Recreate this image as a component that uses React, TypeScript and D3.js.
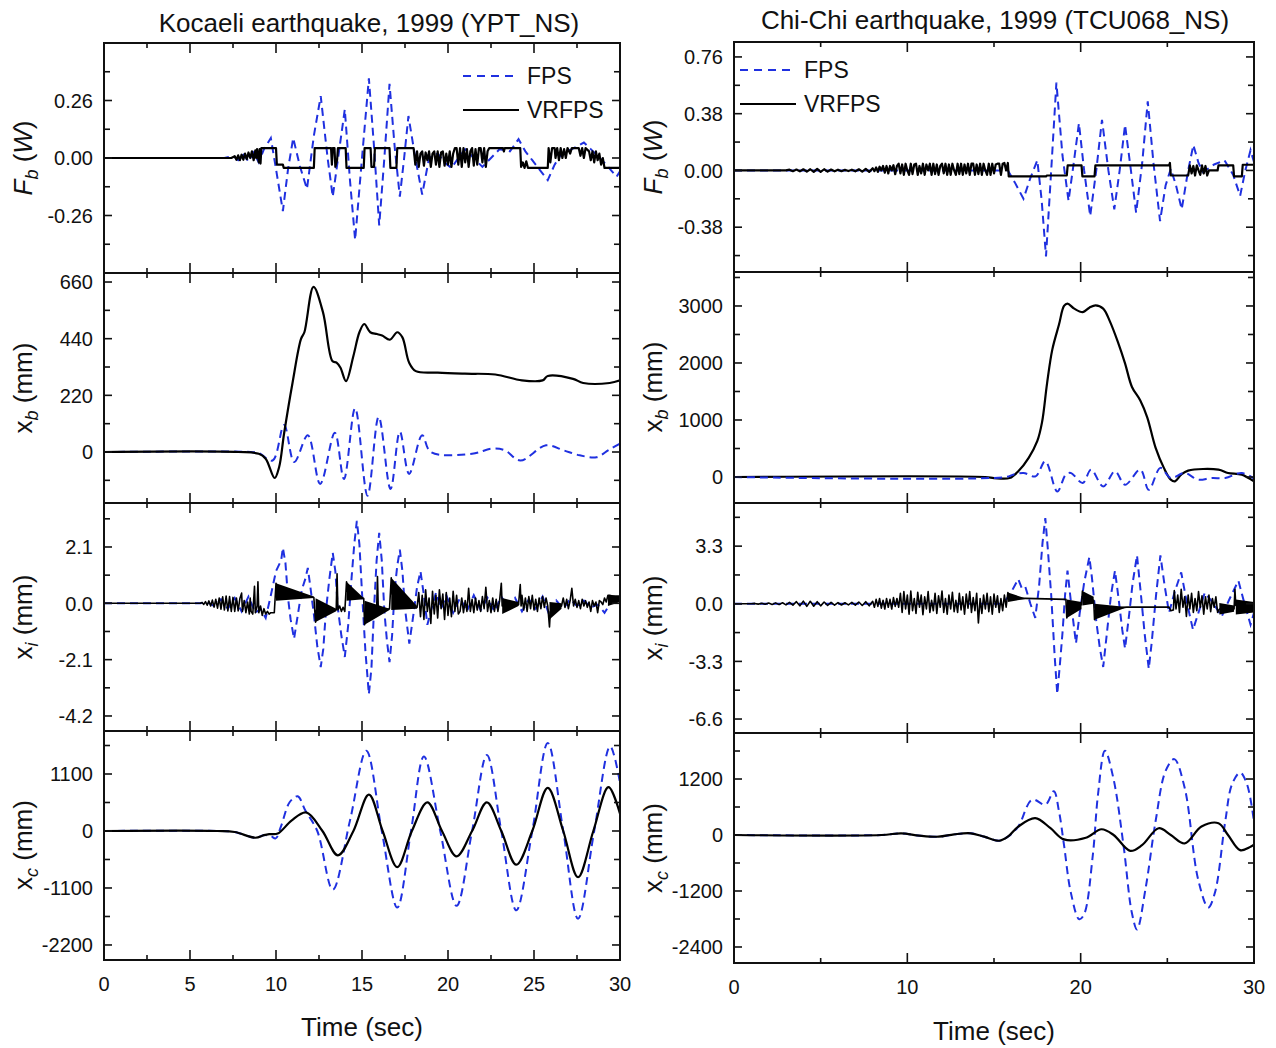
import React from 'react';
import * as d3 from 'd3';

type Pt = [number, number];
type BandPt = [number, number, number];

// evenly sampled run of hand-read values
const seq = (t0: number, dt: number, vals: number[]): Pt[] =>
  vals.map((v, i) => [Math.round((t0 + i * dt) * 1000) / 1000, v] as Pt);

// ---------- axes ----------
const kocTimeTicks = [0, 5, 10, 15, 20, 25, 30];
const chiTimeTicks = [0, 10, 20, 30];

const kocFbTicks = [-0.26, 0, 0.26];
const kocXbTicks = [0, 220, 440, 660];
const kocXiTicks = [-4.2, -2.1, 0, 2.1];
const kocXcTicks = [-2200, -1100, 0, 1100];
const chiFbTicks = [-0.38, 0, 0.38, 0.76];
const chiXbTicks = [0, 1000, 2000, 3000];
const chiXiTicks = [-6.6, -3.3, 0, 3.3];
const chiXcTicks = [-2400, -1200, 0, 1200];

const kocFbRange = [-0.52, 0.52];
const kocXbRange = [-198, 695];
const kocXiRange = [-4.76, 3.74];
const kocXcRange = [-2490, 1930];
const chiFbRange = [-0.68, 0.86];
const chiXbRange = [-456, 3596];
const chiXiRange = [-7.4, 5.77];
const chiXcRange = [-2743, 2186];

// ---------- Kocaeli (YPT_NS) ----------
const kocFbFps: Pt[] = [
  [0, 0], [7.0, 0], [7.5, 0.01], [7.8, -0.01], [8.1, 0.015], [8.4, -0.015], [8.7, 0.025], [9.0, -0.02],
  [9.3, 0.04], [9.7, 0.09], [10.0, -0.05], [10.4, -0.24], [10.7, -0.05], [11.0, 0.09], [11.4, -0.04],
  [11.8, -0.14], [12.2, 0.1], [12.6, 0.28], [13.0, 0.0], [13.3, -0.175], [13.7, 0.05], [14.0, 0.22],
  [14.3, -0.1], [14.6, -0.37], [15.0, 0.0], [15.4, 0.36], [15.7, 0.05], [16.0, -0.305], [16.3, 0.0],
  [16.6, 0.335], [16.9, 0.05], [17.2, -0.175], [17.45, 0.0], [17.7, 0.19], [18.1, 0.0], [18.5, -0.165],
  [18.9, 0.0], [19.4, 0.02], [19.8, -0.02], [20.2, -0.045], [20.6, 0.0], [21.0, 0.04], [21.5, 0.0],
  [22.0, -0.04], [22.5, 0.0], [23.0, 0.04], [23.6, 0.03], [24.1, 0.085], [24.5, 0.03], [24.9, -0.01],
  [25.3, -0.05], [25.8, -0.1], [26.2, -0.03], [26.6, 0.02], [27.2, 0.04], [27.9, 0.07], [28.3, 0.04],
  [28.7, 0.01], [29.2, -0.03], [29.8, -0.085], [30, -0.06],
];
const kocFbVr: Pt[] = [
  [0, 0], [7.4, 0],
  ...seq(7.6, 0.1, [0.008, -0.008, 0.012, -0.01, 0.015, -0.008, 0.02, -0.005, 0.025, 0.0, 0.03, -0.01, 0.035]),
  [8.85, 0.0], [8.9, 0.04], [9.0, -0.02], [9.05, 0.04], [9.1, -0.025], [9.15, 0.045],
  [10.0, 0.045], [10.05, -0.03], [10.4, -0.03], [10.45, -0.045], [12.2, -0.045], [12.25, 0.045],
  [13.2, 0.045], [13.25, -0.03], [13.3, 0.045], [13.4, 0.045], [13.45, -0.04], [13.55, -0.01],
  [13.6, 0.045], [14.05, 0.045], [14.1, -0.045], [15.1, -0.045], [15.15, 0.045], [15.5, 0.045],
  [15.55, -0.04], [15.7, -0.04], [15.75, 0.045], [16.6, 0.045], [16.65, -0.045], [17.0, -0.045],
  [17.05, 0.045], [18.0, 0.045],
  ...seq(18.1, 0.1, [-0.03, 0.03, -0.04, 0.02, 0.03, -0.035, 0.025, -0.01, 0.03, -0.04, 0.02, 0.03, -0.03,
    0.03, -0.04, 0.025, 0.03, -0.035, 0.02, -0.03, 0.03, -0.04, 0.02, 0.045, 0.045, -0.03, 0.045, -0.04,
    0.045, -0.02, 0.04, -0.04, 0.03, 0.045, -0.035, 0.04, -0.03, 0.045, 0.045, -0.02, 0.045, -0.04, 0.03, 0.045]),
  [23.2, 0.045], [23.25, 0.03], [23.3, 0.045], [24.2, 0.045], [24.25, -0.04], [24.35, -0.02],
  [24.45, -0.045], [24.55, -0.015], [24.65, -0.045], [25.8, -0.045], [25.85, 0.045], [25.95, -0.02],
  [26.05, 0.045], [26.2, 0.045], [26.25, 0.0], [26.35, 0.045], [26.45, -0.01], [26.55, 0.045],
  [26.65, 0.0], [26.75, 0.04], [26.85, 0.0], [26.95, 0.045], [27.1, 0.02], [27.2, 0.045], [27.6, 0.045],
  [27.7, 0.01], [27.8, 0.045], [27.9, 0.0], [28.0, 0.045], [28.2, 0.03], [28.3, -0.01], [28.4, 0.03],
  [28.5, -0.02], [28.6, 0.03], [28.7, -0.01], [28.8, 0.02], [28.9, -0.03], [29.0, 0.0], [29.1, -0.045],
  [30, -0.045],
];

const kocXbFps: Pt[] = [
  [0, 0], [8.5, 0], [9.0, -4], [9.8, -33], [10.47, 105], [11.06, -39], [11.85, 65], [12.57, -124],
  [13.42, 75], [13.95, -105], [14.6, 170], [15.32, -170], [15.97, 137], [16.66, -144], [17.2, 79],
  [17.74, -85], [18.5, 65], [19.0, 0], [21.4, -7], [22.55, 13], [23.3, 7], [24.2, -33], [25.7, 26],
  [26.7, 7], [27.66, -13], [28.64, -20], [29.33, 7], [30, 33],
];
const kocXbVr: Pt[] = [
  [0, 0], [7.8, 0], [9.0, -7], [9.4, -26], [9.92, -101], [10.18, -59], [10.47, 72], [10.96, 268],
  [11.45, 438], [11.65, 465], [12.18, 641], [12.73, 543], [13.28, 353], [13.52, 347], [13.75, 327],
  [14.07, 275], [14.5, 373], [14.85, 465], [15.13, 497], [15.48, 465], [15.87, 458], [16.17, 452],
  [16.62, 436], [17.05, 465], [17.35, 445], [17.74, 347], [18.13, 314], [19.4, 308], [20.98, 304],
  [22.75, 301], [24.3, 278], [25.5, 278], [25.8, 295], [27.27, 284], [27.86, 268], [29.4, 268], [30, 278],
];

const kocXiFps: Pt[] = [
  [0, 0], [5.6, 0], [6.0, 0.05], [6.4, -0.1], [6.8, 0.15], [7.2, -0.2], [7.6, 0.2], [8.0, -0.3],
  [8.4, 0.25], [8.8, -0.35], [9.1, -0.2], [9.4, -0.55], [9.7, 0.3], [10.0, 1.2], [10.3, 1.6],
  [10.4, 2.07], [10.55, 1.5], [10.7, 0.2], [10.85, -0.6], [11.05, -1.32], [11.3, -0.3], [11.5, 0.5],
  [11.7, 0.9], [11.85, 1.32], [12.0, 0.6], [12.2, -0.4], [12.4, -1.6], [12.6, -2.38], [12.75, -1.7],
  [12.9, -0.3], [13.1, 0.9], [13.3, 1.88], [13.45, 1.2], [13.6, -0.2], [13.8, -1.2], [14.0, -2.0],
  [14.2, -0.8], [14.4, 1.0], [14.55, 2.2], [14.7, 3.07], [14.85, 2.2], [15.0, 0.4], [15.2, -1.8],
  [15.4, -3.39], [15.55, -2.4], [15.7, -0.2], [15.85, 1.6], [16.0, 2.63], [16.15, 1.6], [16.3, -0.3],
  [16.45, -1.4], [16.6, -2.19], [16.75, -1.2], [16.9, 0.5], [17.05, 1.4], [17.2, 2.0], [17.35, 1.2],
  [17.5, -0.2], [17.75, -1.5], [17.95, -0.6], [18.2, 0.6], [18.4, 1.19], [18.6, 0.3], [18.8, -0.8],
  [19.0, -0.3], [19.3, 0.4], [19.6, -0.2], [19.9, 0.3], [20.3, -0.35], [20.7, 0.2], [21.1, -0.3],
  [21.5, 0.3], [21.9, -0.25], [22.3, 0.2], [22.7, -0.3], [23.1, 0.25], [23.5, -0.2], [23.9, 0.2],
  [24.3, -0.3], [24.7, 0.15], [25.1, -0.2], [25.5, 0.25], [25.9, -0.45], [26.3, 0.1], [26.7, -0.2],
  [27.1, 0.15], [27.5, -0.1], [27.9, 0.1], [28.3, -0.15], [28.7, -0.05], [29.1, -0.35], [29.5, 0.05],
  [30, 0.2],
];
const kocXiVr: Pt[] = [
  [0, 0], [5.5, 0],
  ...seq(5.6, 0.1, [0, 0.03, -0.04, 0.06, -0.07, 0.09, -0.1, 0.12, -0.14, 0.15, -0.18, 0.2, -0.22, 0.24,
    -0.25, 0.27, -0.28, 0.25, -0.3, 0.22, -0.3, 0.2, -0.28, 0.18]),
  [8.0, 0.38], [8.05, -0.3], [8.15, 0.1], [8.25, -0.35], [8.35, 0.05], [8.45, -0.4], [8.5, 0.2],
  [8.55, -0.3], [8.65, -0.4], [8.75, 0.63], [8.8, -0.35], [8.9, -0.1], [8.95, 0.8], [9.0, -0.35],
  [9.1, -0.1], [9.2, -0.45], [9.3, -0.2], [9.4, -0.4], [9.5, -0.3], [9.6, -0.4], [9.7, -0.35],
  [9.9, -0.35], [10.0, 0.75], [10.05, 0.45], [12.2, 0.22], [12.3, -0.7], [12.35, -0.25], [13.5, -0.25],
  [13.55, 1.1], [13.6, -0.25], [13.7, -0.1], [13.8, -0.3], [13.9, -0.15], [14.0, -0.3], [14.1, 0.8],
  [14.15, 0.45], [15.1, 0.18], [15.15, -0.8], [15.2, -0.35], [15.85, -0.3], [15.9, 1.0], [15.95, -0.3],
  [16.6, -0.2], [16.7, 0.95], [16.75, 0.35], [18.2, -0.15],
  ...seq(18.3, 0.1, [0.4, -0.5, 0.3, -0.6, 0.5, -0.3, 0.2, -0.75, 0.45, -0.4, 0.3, -0.55, 0.5, -0.2, 0.35,
    -0.6, 0.4, -0.45, 0.2, -0.5, 0.45, -0.3, 0.3, -0.4]),
  [20.7, -0.3],
  ...seq(20.8, 0.1, [0.2, -0.35, 0.1, -0.3, 0.56, -0.3, 0.15, -0.35, 0.2, -0.25, 0.1, -0.3, 0.25, -0.2,
    0.6, -0.3, 0.1, -0.35, 0.2, -0.3, 0.15, -0.3, 0.1, 0.75]),
  [23.15, -0.1], [24.1, -0.05], [24.2, 0.7], [24.25, -0.1],
  ...seq(24.3, 0.1, [0.3, -0.25, 0.2, -0.3, 0.25, -0.2, 0.3, -0.25, 0.15, -0.3, 0.2, -0.2, 0.25, -0.15, 0.2]),
  [25.8, -0.1], [25.9, -0.88], [25.95, -0.3], [26.6, -0.1],
  ...seq(26.7, 0.1, [0.2, -0.15, 0.15, -0.2, 0.1, 0.56, -0.1, 0.15, -0.15, 0.1, -0.2, 0.15, -0.1, 0.1,
    -0.15, 0.05, -0.3, 0.1, -0.1, 0.05, -0.35, 0.1, 0.05, -0.05, 0.2, 0.05, 0.3]),
  [29.4, 0.3], [30, 0.2],
];
// dense high-frequency ringing, drawn as its envelope [t, low, high]
const kocXiVrBands: BandPt[][] = [
  [[10.0, 0.1, 0.75], [12.2, 0.2, 0.25]],
  [[12.3, -0.7, 0.19], [13.5, -0.3, -0.2]],
  [[14.1, 0.1, 0.8], [15.1, 0.15, 0.2]],
  [[15.15, -0.8, 0.1], [16.6, -0.25, -0.2]],
  [[16.7, -0.25, 0.95], [18.2, -0.2, -0.1]],
  [[23.15, -0.4, 0.2], [24.1, -0.1, 0.05]],
  [[25.9, -0.6, 0.05], [26.6, -0.2, 0.0]],
  [[29.3, -0.1, 0.3], [30, 0.05, 0.3]],
];

const kocXcFps: Pt[] = [
  [0, 0], [6.6, 0], [7.6, -20], [8.8, -130], [9.3, -80], [9.7, -100], [9.98, -143], [10.3, 100],
  [10.8, 560], [11.26, 670], [11.7, 400], [12.4, 0], [13.3, -1133], [14.3, 200], [15.25, 1549],
  [16.15, 0], [17.05, -1478], [17.85, 0], [18.6, 1438], [19.55, 0], [20.5, -1445], [21.4, 0],
  [22.26, 1465], [23.1, 0], [23.97, -1530], [24.9, 0], [25.8, 1700], [26.7, 0], [27.56, -1693],
  [28.5, 0], [29.43, 1634], [30, 930],
];
const kocXcVr: Pt[] = [
  [0, 0], [6.6, 0], [7.6, -20], [8.8, -130], [9.3, -80], [9.6, -60], [10.1, -50], [10.9, 200],
  [11.75, 358], [12.7, 0], [13.6, -470], [14.5, 0], [15.4, 703], [16.2, 0], [17.05, -697], [17.9, 0],
  [18.8, 553], [19.65, 0], [20.5, -488], [21.4, 0], [22.26, 553], [23.1, 0], [23.97, -651], [24.9, 0],
  [25.8, 833], [26.7, 0], [27.56, -892], [28.45, 0], [29.33, 846], [30, 332],
];

// ---------- Chi-Chi (TCU068_NS) ----------
const chiFbFps: Pt[] = [
  [0, 0], [15.8, 0], [16.2, -0.08], [16.7, -0.19], [17.1, -0.05], [17.5, 0.068], [17.75, -0.2],
  [18.0, -0.576], [18.3, 0.0], [18.6, 0.588], [18.95, 0.1], [19.3, -0.203], [19.6, 0.05], [19.9, 0.316],
  [20.2, 0.0], [20.55, -0.305], [20.9, 0.0], [21.23, 0.339], [21.6, 0.0], [21.94, -0.26], [22.25, 0.0],
  [22.56, 0.305], [22.9, 0.0], [23.2, -0.283], [23.55, 0.05], [23.87, 0.463], [24.2, 0.05],
  [24.58, -0.339], [24.9, -0.1], [25.2, 0.011], [25.5, -0.1], [25.83, -0.26], [26.2, 0.0], [26.5, 0.17],
  [26.8, 0.05], [27.06, -0.011], [27.7, 0.04], [28.3, 0.068], [28.8, -0.03], [29.2, -0.17], [29.5, 0.0],
  [29.8, 0.136], [30, 0.056],
];
const chiFbVr: Pt[] = [
  [0, 0], [3.0, 0],
  ...seq(3.2, 0.2, [0.005, -0.005, 0.006, -0.006, 0.008, -0.008, 0.008, -0.01, 0.01, -0.01, 0.008, -0.008,
    0.006, -0.006, 0.005, -0.005, 0.004, -0.004, 0.005, -0.006, 0.008, -0.008, 0.01, -0.01]),
  ...seq(8.0, 0.1, [0.015, -0.005, 0.02, -0.01, 0.025, 0.0, 0.03, -0.015, 0.03, -0.02, 0.03, 0.0, 0.035,
    -0.025, 0.03]),
  ...seq(9.5, 0.1, [0.045, -0.02, 0.04, -0.03, 0.045, 0.0, -0.03, 0.045, -0.025, 0.04, 0.045, -0.03, 0.03,
    -0.02, 0.045, -0.03, 0.04, 0.0, 0.045, -0.03, 0.045, -0.025, 0.04, -0.03, 0.03, 0.045, -0.02, 0.045,
    -0.03, 0.04, -0.03, 0.045, 0.0, -0.03, 0.045, -0.025, 0.045, -0.03, 0.04, -0.02, 0.045, -0.03, 0.045,
    0.045, -0.03, 0.04, -0.025, 0.045, -0.03, 0.045, 0.0, -0.03, 0.045, -0.03, 0.045, -0.02, 0.04, 0.045,
    0.045, -0.03, 0.045, 0.05]),
  [15.7, 0.0], [15.8, 0.05], [15.85, -0.04], [18.0, -0.04], [18.05, -0.034], [19.2, -0.034],
  [19.25, 0.034], [20.05, 0.034], [20.1, -0.04], [20.8, -0.04], [20.85, 0.034], [25.1, 0.034],
  [25.15, 0.05], [25.2, -0.034], [26.2, -0.034],
  ...seq(26.3, 0.1, [0.034, -0.02, 0.03, -0.034, 0.034, 0.0, -0.03, 0.034, -0.02, 0.03, -0.034]),
  [27.4, 0.0], [27.9, 0.0], [27.95, 0.034], [28.8, 0.034], [28.85, -0.04], [29.3, -0.04],
  [29.35, 0.038], [30, 0.038],
];

const chiXbFps: Pt[] = [
  [0, 0], [15.7, 0], [16.1, 41], [16.7, 71], [17.4, 12], [17.96, 278], [18.65, -254], [19.14, 41],
  [19.43, 71], [20.12, -106], [20.6, 130], [21.3, -166], [21.98, 100], [22.56, -136], [23.44, 130],
  [23.93, -225], [24.6, 160], [25.2, -18], [26.0, 71], [26.77, -47], [27.55, -18], [28.34, -18],
  [29.3, 71], [30, -30],
];
const chiXbVr: Pt[] = [
  [0, 0], [14.5, 0], [15.0, -18], [15.9, -18], [16.4, 100], [17.0, 337], [17.5, 633], [17.77, 958],
  [18.06, 1639], [18.36, 2230], [18.75, 2674], [19.04, 3000], [19.24, 3041], [19.63, 2953],
  [20.12, 2893], [20.5, 2970], [20.86, 3012], [21.3, 2953], [21.68, 2734], [22.17, 2349], [22.56, 1994],
  [22.96, 1580], [23.44, 1343], [23.84, 1047], [24.32, 515], [24.8, 160], [25.2, -47], [25.44, -77],
  [25.8, 41], [26.2, 112], [27.95, 130], [28.5, 71], [29.3, 41], [30, -77],
];

const chiXiFps: Pt[] = [
  [0, 0], [15.5, 0], [15.9, 0.5], [16.4, 1.41], [16.6, 0.9], [16.8, 1.0], [17.1, 0.0], [17.38, -0.81],
  [17.6, 1.0], [17.8, 3.5], [17.96, 4.9], [18.1, 3.2], [18.3, 0.5], [18.5, -3.0], [18.65, -5.17],
  [18.8, -3.5], [18.95, -1.68], [19.1, 0.5], [19.24, 1.9], [19.45, 0.0], [19.73, -2.27], [19.95, -0.5],
  [20.2, 1.2], [20.5, 2.67], [20.65, 1.5], [20.9, -1.0], [21.1, -2.5], [21.3, -3.62], [21.5, -1.8],
  [21.75, 0.5], [21.98, 1.9], [22.2, 0.2], [22.4, -1.5], [22.56, -2.56], [22.8, -0.6], [23.0, 1.2],
  [23.25, 2.77], [23.45, 0.8], [23.7, -1.8], [23.93, -3.72], [24.1, -2.2], [24.35, 0.5], [24.6, 2.77],
  [24.85, 1.0], [25.1, -0.52], [25.4, 0.6], [25.8, 1.8], [26.1, 0.2], [26.48, -1.49], [26.8, -0.5],
  [27.16, 0.64], [27.6, 0.1], [28.14, -0.72], [28.6, 0.3], [29.1, 1.32], [29.4, 0.2], [29.8, -1.2],
  [30, -0.52],
];
const chiXiVr: Pt[] = [
  [0, 0], [1.0, 0],
  ...seq(1.2, 0.2, [0.02, -0.02, 0.03, -0.03, 0.04, -0.04, 0.05, -0.05, 0.06, -0.06, 0.08, -0.08, 0.12,
    -0.12, 0.15, -0.15, 0.14, -0.14, 0.12, -0.12, 0.1, -0.1, 0.08, -0.08, 0.07, -0.07, 0.06, -0.06, 0.08,
    -0.08, 0.1, -0.1, 0.12, -0.12, 0.14]),
  ...seq(8.1, 0.1, [-0.2, 0.25, -0.15, 0.3, -0.25, 0.2, -0.3, 0.3, -0.2, 0.25, -0.3, 0.35, -0.15, 0.3, -0.2]),
  ...seq(9.6, 0.1, [0.6, -0.5, 0.7, -0.3, 0.5, -0.6, 0.73, -0.4, 0.3, -0.55, 0.65, -0.2, 0.5, -0.62, 0.4,
    -0.3, 0.7, -0.5, 0.2, -0.4, 0.6, -0.55, 0.45, -0.2, 0.73, -0.5, 0.3, -0.6, 0.5, -0.3, 0.65, -0.45, 0.2,
    -0.5, 0.6, -0.35, 0.4, -0.6, 0.55, -0.25, 0.7, -0.5, 0.35, -0.4, 0.6, -1.1, 0.3, -0.55, 0.5, -0.3, 0.6,
    -0.45, 0.4, -0.6, 0.55, -0.2, 0.45, -0.5, 0.3, -0.4, 0.5, -0.2]),
  [15.8, 0.64], [15.85, 0.3], [16.8, 0.31], [19.15, 0.25], [19.2, -0.81], [19.25, -0.2], [20.05, -0.05],
  [20.1, 0.73], [20.15, 0.3], [20.75, 0.2], [20.8, -0.91], [20.85, -0.4], [22.66, -0.19], [25.1, -0.19],
  [25.2, -0.4], [25.35, -0.35], [25.4, 0.75],
  ...seq(25.5, 0.1, [-0.3, 0.5, -0.5, 0.83, -0.2, 0.4, -0.72, 0.5, -0.3, 0.6, -0.5, 0.3, -0.4, 0.7, -0.2,
    0.45, -0.6, 0.4, -0.3, 0.5, -0.45, 0.3, -0.2, 0.4, -0.5]),
  [28.0, -0.3], [28.85, -0.3], [28.9, 0.83], [28.95, -0.1], [30, -0.2],
];
const chiXiVrBands: BandPt[][] = [
  [[15.8, 0.1, 0.64], [16.8, 0.28, 0.32]],
  [[19.2, -0.81, 0.25], [20.05, -0.3, 0.1]],
  [[20.1, -0.1, 0.73], [20.75, 0.0, 0.4]],
  [[20.8, -0.91, 0.0], [22.66, -0.2, -0.18]],
  [[28.0, -0.62, 0.05], [28.85, -0.45, -0.1]],
  [[28.95, -0.62, 0.25], [30, -0.5, 0.1]],
];

const chiXcFps: Pt[] = [
  [0, 0], [8.5, 0], [9.65, 36], [10.7, -14], [11.8, -36], [12.7, 14], [13.66, 36], [14.44, -36],
  [15.3, -123], [15.8, -36], [16.4, 181], [17.2, 759], [17.96, 650], [18.45, 940], [18.75, 506],
  [19.04, -217], [19.43, -1229], [19.92, -1807], [20.2, -1698], [20.7, -434], [21.0, 867], [21.4, 1807],
  [21.88, 1229], [22.47, -217], [22.95, -1662], [23.25, -2024], [23.74, -1156], [24.32, 289],
  [24.9, 1373], [25.4, 1626], [26.0, 1012], [26.77, -940], [27.36, -1554], [27.75, -1229], [28.34, 289],
  [28.73, 1084], [29.2, 1337], [29.6, 1084], [30.1, 0],
];
const chiXcVr: Pt[] = [
  [0, 0], [8.5, 0], [9.65, 36], [10.7, -14], [11.8, -36], [12.7, 14], [13.66, 36], [14.44, -36],
  [15.3, -123], [15.8, -36], [16.4, 181], [17.38, 361], [18.26, 145], [19.04, -94], [20.3, -58],
  [21.2, 123], [21.9, 0], [22.86, -340], [23.54, -217], [24.5, 145], [25.2, 0], [26.0, -181],
  [26.97, 181], [27.95, 253], [28.5, 0], [29.2, -325], [29.8, -253], [30.1, -181],
];

// ---------- drawing ----------
const BLUE = '#1f30e0';
const FONT = '"Liberation Sans", Arial, Helvetica, sans-serif';
const minusLocale = d3.formatLocale({ decimal: '.', thousands: ',', grouping: [3], currency: ['', ''], minus: '-' });

type PanelProps = {
  id: string;
  x0: number; x1: number; y0: number; y1: number;
  yRange: number[]; yTicks: number[]; yMinor: number; fmt: string;
  xTicks: number[]; xMinor: number; xLabels: boolean;
  fps: Pt[]; vr: Pt[]; bands?: BandPt[][]; smooth?: boolean; fpsSmooth?: boolean; fpsOnTop?: boolean;
  labelX: number;
};

function Panel(p: PanelProps) {
  const x = d3.scaleLinear().domain([0, 30]).range([p.x0, p.x1]);
  const y = d3.scaleLinear().domain(p.yRange).range([p.y1, p.y0]);
  const mk = (smooth?: boolean) =>
    d3.line<Pt>().x(d => x(d[0])).y(d => y(d[1]))
      .curve(smooth ? d3.curveCatmullRom.alpha(0.5) : d3.curveLinear);
  const area = d3.area<BandPt>().x(d => x(d[0])).y0(d => y(d[1])).y1(d => y(d[2]));
  const fmt = minusLocale.format(p.fmt);

  const yAll = d3.range(Math.ceil(p.yRange[0] / p.yMinor - 1e-6), Math.floor(p.yRange[1] / p.yMinor + 1e-6) + 1)
    .map(k => k * p.yMinor)
    .filter(v => y(v) > p.y0 + 3 && y(v) < p.y1 - 3);
  const isMajorY = (v: number) => p.yTicks.some(t => Math.abs(t - v) < p.yMinor * 0.01);
  const xAll = d3.range(0, 30 + 1e-6, p.xMinor).filter(t => x(t) > p.x0 + 3 && x(t) < p.x1 - 3);
  const isMajorX = (t: number) => p.xTicks.some(v => Math.abs(v - t) < 1e-6);

  const fpsPath = (
    <path d={mk(p.fpsSmooth)(p.fps) || ''} fill="none" stroke={BLUE} strokeWidth={2} strokeDasharray="8,5" />
  );
  const vrPath = (
    <g>
      {(p.bands || []).map((b, i) => <path key={i} d={area(b) || ''} fill="#000" />)}
      <path d={mk(p.smooth)(p.vr) || ''} fill="none" stroke="#000" strokeWidth={p.bands ? 1.6 : 2.2}
        strokeLinejoin="round" />
    </g>
  );

  return (
    <g>
      <clipPath id={p.id}>
        <rect x={p.x0} y={p.y0} width={p.x1 - p.x0} height={p.y1 - p.y0} />
      </clipPath>
      <g clipPath={`url(#${p.id})`}>
        {p.fpsOnTop ? <>{vrPath}{fpsPath}</> : <>{fpsPath}{vrPath}</>}
      </g>
      <rect x={p.x0} y={p.y0} width={p.x1 - p.x0} height={p.y1 - p.y0} fill="none" stroke="#111" strokeWidth={2} />
      {yAll.map((v, i) => {
        const len = isMajorY(v) ? 8 : 6;
        return (
          <g key={'y' + i} stroke="#111" strokeWidth={1.6}>
            <line x1={p.x0} x2={p.x0 + len} y1={y(v)} y2={y(v)} />
            <line x1={p.x1} x2={p.x1 - len} y1={y(v)} y2={y(v)} />
          </g>
        );
      })}
      {xAll.map((t, i) => {
        const len = isMajorX(t) ? 10 : 5;
        return (
          <g key={'x' + i} stroke="#111" strokeWidth={1.6}>
            <line x1={x(t)} x2={x(t)} y1={p.y1} y2={p.y1 - len} />
            <line x1={x(t)} x2={x(t)} y1={p.y0} y2={p.y0 + len} />
          </g>
        );
      })}
      {p.yTicks.map((v, i) => (
        <text key={'yl' + i} x={p.labelX} y={y(v)} dy="0.36em" textAnchor="end" fontSize={20} fill="#111">
          {fmt(v)}
        </text>
      ))}
      {p.xLabels && p.xTicks.map((t, i) => (
        <text key={'xl' + i} x={x(t)} y={p.y1 + 31} textAnchor="middle" fontSize={20} fill="#111">{t}</text>
      ))}
    </g>
  );
}

function YTitle({ x, y, main, sub, unit, italic }: { x: number; y: number; main: string; sub: string; unit: string; italic?: boolean }) {
  return (
    <text transform={`translate(${x},${y}) rotate(-90)`} textAnchor="middle" fontSize={26} fill="#111">
      <tspan fontStyle={italic ? 'italic' : 'normal'}>{main}</tspan>
      <tspan fontSize={18} dy={6} fontStyle="italic">{sub}</tspan>
      <tspan dy={-6}> (</tspan>
      <tspan fontStyle={italic ? 'italic' : 'normal'}>{unit}</tspan>
      <tspan>)</tspan>
    </text>
  );
}

function Legend({ x, y }: { x: number; y: number }) {
  return (
    <g fontSize={23} fill="#111">
      <line x1={x} x2={x + 56} y1={y} y2={y} stroke={BLUE} strokeWidth={2} strokeDasharray="8,6" />
      <text x={x + 64} y={y + 8}>FPS</text>
      <line x1={x} x2={x + 56} y1={y + 34} y2={y + 34} stroke="#000" strokeWidth={2.2} />
      <text x={x + 64} y={y + 42}>VRFPS</text>
    </g>
  );
}

const App = () => {
  const kx = { x0: 104, x1: 620, xTicks: kocTimeTicks, xMinor: 2.5, labelX: 93 };
  const cx = { x0: 734, x1: 1254, xTicks: chiTimeTicks, xMinor: 5, labelX: 723 };
  return (
    <div style={{ position: 'absolute', left: 0, top: 0 }}>
      <svg width={1276} height={1048} style={{ display: 'block', fontFamily: FONT, background: '#fff' }}>
        <text x={369} y={32} textAnchor="middle" fontSize={26} fill="#111">Kocaeli earthquake, 1999 (YPT_NS)</text>
        <text x={995} y={29} textAnchor="middle" fontSize={26} fill="#111">Chi-Chi earthquake, 1999 (TCU068_NS)</text>

        <Panel id="k1" {...kx} y0={43} y1={273} yRange={kocFbRange} yTicks={kocFbTicks} yMinor={0.13} fmt=".2f"
          xLabels={false} fps={kocFbFps} vr={kocFbVr} />
        <Panel id="k2" {...kx} y0={273} y1={503} yRange={kocXbRange} yTicks={kocXbTicks} yMinor={110} fmt="d"
          xLabels={false} fps={kocXbFps} vr={kocXbVr} smooth fpsSmooth />
        <Panel id="k3" {...kx} y0={503} y1={731} yRange={kocXiRange} yTicks={kocXiTicks} yMinor={1.05} fmt=".1f"
          xLabels={false} fps={kocXiFps} vr={kocXiVr} bands={kocXiVrBands} />
        <Panel id="k4" {...kx} y0={731} y1={960} yRange={kocXcRange} yTicks={kocXcTicks} yMinor={550} fmt="d"
          xLabels fps={kocXcFps} vr={kocXcVr} smooth fpsSmooth />

        <Panel id="c1" {...cx} y0={42} y1={272} yRange={chiFbRange} yTicks={chiFbTicks} yMinor={0.19} fmt=".2f"
          xLabels={false} fps={chiFbFps} vr={chiFbVr} />
        <Panel id="c2" {...cx} y0={272} y1={503} yRange={chiXbRange} yTicks={chiXbTicks} yMinor={500} fmt="d"
          xLabels={false} fps={chiXbFps} vr={chiXbVr} smooth fpsSmooth fpsOnTop />
        <Panel id="c3" {...cx} y0={503} y1={733} yRange={chiXiRange} yTicks={chiXiTicks} yMinor={1.65} fmt=".1f"
          xLabels={false} fps={chiXiFps} vr={chiXiVr} bands={chiXiVrBands} />
        <Panel id="c4" {...cx} y0={733} y1={963} yRange={chiXcRange} yTicks={chiXcTicks} yMinor={600} fmt="d"
          xLabels fps={chiXcFps} vr={chiXcVr} smooth fpsSmooth />

        <Legend x={463} y={76} />
        <Legend x={740} y={70} />

        <YTitle x={32} y={158} main="F" sub="b" unit="W" italic />
        <YTitle x={32} y={388} main="x" sub="b" unit="mm" />
        <YTitle x={32} y={617} main="x" sub="i" unit="mm" />
        <YTitle x={32} y={845} main="x" sub="c" unit="mm" />
        <YTitle x={662} y={157} main="F" sub="b" unit="W" italic />
        <YTitle x={662} y={387} main="x" sub="b" unit="mm" />
        <YTitle x={662} y={618} main="x" sub="i" unit="mm" />
        <YTitle x={662} y={848} main="x" sub="c" unit="mm" />

        <text x={362} y={1036} textAnchor="middle" fontSize={26} fill="#111">Time (sec)</text>
        <text x={994} y={1040} textAnchor="middle" fontSize={26} fill="#111">Time (sec)</text>
      </svg>
    </div>
  );
};

export default App;
